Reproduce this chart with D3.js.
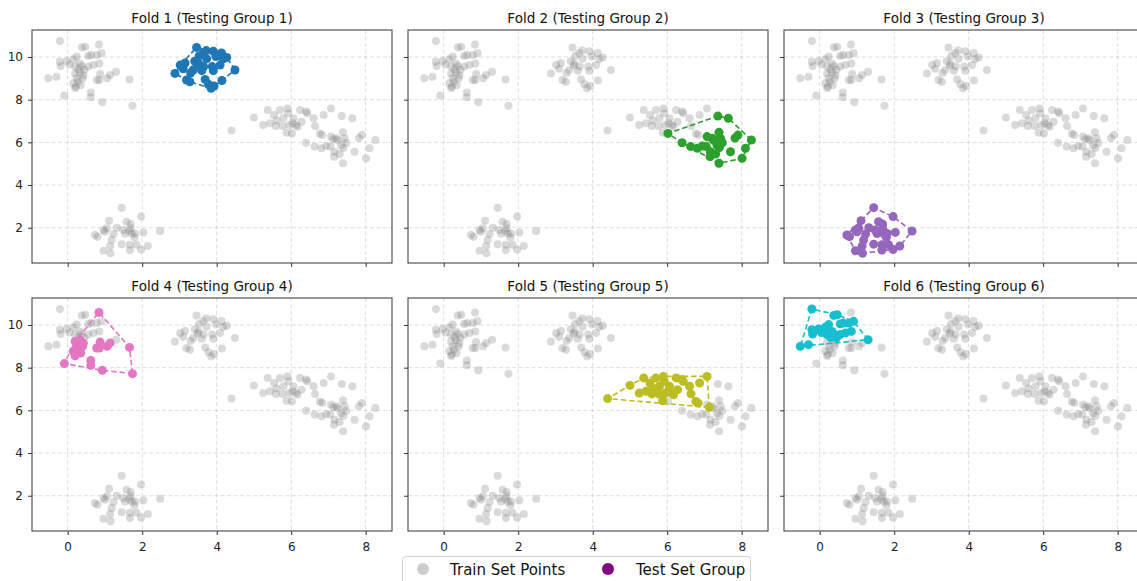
<!DOCTYPE html>
<html>
<head>
<meta charset="utf-8">
<script src="https://cdn.jsdelivr.net/npm/d3@7"></script>
<style>
  html, body { margin: 0; padding: 0; background: #fff; overflow: hidden; }
  svg { display: block; font-family: "DejaVu Sans", sans-serif; }
</style>
</head>
<body>
<svg id="chart" width="1137" height="581"></svg>
<script>
// Six spatial groups; each fold holds one group out as the test set.
const group1 = [[3.46,10.45],[3.64,10.19],[3.72,10.30],[3.91,10.27],[3.98,10.02],[4.13,10.19],[4.27,9.98],[4.18,9.91],
  [3.53,10.05],[3.73,9.92],[3.41,9.80],[3.15,9.72],[3.02,9.62],[3.51,9.70],[3.49,9.60],[3.37,9.39],[3.60,9.36],
  [3.91,9.36],[4.09,9.62],[4.49,9.39],[2.88,9.23],[3.10,9.45],[3.19,8.92],[3.28,8.84],[3.69,8.95],[3.78,8.72],
  [3.85,8.53],[3.93,8.64],[4.14,8.90],[3.88,9.55],[3.65,9.55],[3.30,9.25]];
const group2 = [[6.02,6.42],[6.40,5.98],[6.63,5.80],[6.81,5.72],[6.94,5.83],[7.07,6.27],[7.21,6.19],[7.39,6.47],
  [7.36,7.23],[7.64,7.13],[7.43,6.19],[7.48,5.98],[7.34,5.86],[7.16,5.56],[7.15,5.33],[7.39,5.02],[7.70,5.56],
  [7.90,6.34],[7.82,6.20],[8.10,5.72],[8.01,5.25],[8.26,6.11],[7.30,5.45],[7.05,5.80],[7.40,5.75],[7.25,6.10]];
const group3 = [[1.45,2.94],[1.11,2.33],[1.32,2.00],[1.58,2.28],[1.69,2.17],[1.97,2.52],[1.05,1.97],[0.96,1.89],
  [1.00,1.81],[0.73,1.66],[0.80,1.58],[1.23,1.70],[1.49,1.89],[1.54,1.73],[1.69,1.97],[1.72,1.73],[1.81,1.73],
  [1.79,1.55],[2.03,1.78],[2.48,1.84],[1.18,1.42],[1.14,1.14],[0.96,0.92],[1.15,0.80],[1.45,1.23],[1.67,1.20],
  [1.67,0.95],[1.85,1.20],[1.97,0.98],[2.15,1.14],[1.65,1.85]];
const group4 = [[0.84,10.59],[-0.09,8.19],[0.62,8.34],[0.62,8.11],[0.93,7.88],[1.74,7.72],[1.66,8.95],[0.78,8.92],
  [0.85,8.92],[0.87,9.20],[1.06,9.00],[1.14,9.16],[0.20,9.23],[0.33,9.28],[0.42,9.15],[0.24,9.00],[0.15,8.77],
  [0.20,8.55],[0.35,8.69],[0.40,9.00],[0.28,8.85],[0.22,8.62]];
const group5 = [[4.40,6.55],[5.00,7.17],[5.25,6.81],[5.37,7.52],[5.43,6.89],[5.54,7.28],[5.61,7.02],[5.59,6.77],
  [5.70,7.52],[5.79,7.13],[5.77,6.77],[5.90,7.59],[5.88,6.45],[5.92,7.36],[5.95,6.81],[6.06,7.13],[6.04,6.89],
  [6.13,6.81],[6.17,6.73],[6.24,7.52],[6.28,6.97],[6.40,7.44],[6.43,7.36],[6.60,7.13],[6.64,6.77],[6.77,6.42],
  [6.83,6.34],[6.87,7.28],[7.07,7.59],[7.13,6.14]];
const group6 = [[-0.21,10.75],[-0.52,9.00],[-0.30,9.08],[-0.21,9.78],[-0.19,9.58],[-0.03,9.81],[0.15,9.89],
  [0.24,10.02],[0.38,10.45],[0.47,10.48],[0.55,10.05],[0.63,10.09],[0.78,10.09],[0.91,10.17],[0.33,9.70],
  [0.38,9.58],[0.20,9.55],[0.55,9.55],[0.69,9.63],[0.85,9.70],[0.29,9.42],[1.30,9.31],[0.45,9.40],[0.05,9.65]];

const groups = [group1, group2, group3, group4, group5, group6];
const groupColors = ["#1f77b4", "#2ca02c", "#9467bd", "#e377c2", "#bcbd22", "#17becf"];
const foldTitles = groups.map((_, i) => `Fold ${i + 1} (Testing Group ${i + 1})`);
const xTicks = [0, 2, 4, 6, 8];
const yTicks = [2, 4, 6, 8, 10];
const legendLabels = ["Train Set Points", "Test Set Group"];

const panelW = 360, panelH = 233;
const colLeft = [32, 408, 784];
const rowTop = [30, 298];

const x = d3.scaleLinear().domain([-0.958, 8.706]).range([0, panelW]);
const y = d3.scaleLinear().domain([0.346, 11.265]).range([panelH, 0]);

const svg = d3.select("#chart");

groups.forEach((testGroup, fold) => {
  const col = fold % 3, row = Math.floor(fold / 3);
  const g = svg.append("g").attr("transform", `translate(${colLeft[col]},${rowTop[row]})`);

  // grid
  g.append("g").selectAll("line").data(xTicks).join("line")
    .attr("x1", d => x(d)).attr("x2", d => x(d)).attr("y1", 0).attr("y2", panelH)
    .attr("stroke", "#b0b0b0").attr("stroke-opacity", 0.55).attr("stroke-width", 0.8)
    .attr("stroke-dasharray", "4,2.5");
  g.append("g").selectAll("line").data(yTicks).join("line")
    .attr("y1", d => y(d)).attr("y2", d => y(d)).attr("x1", 0).attr("x2", panelW)
    .attr("stroke", "#b0b0b0").attr("stroke-opacity", 0.55).attr("stroke-width", 0.8)
    .attr("stroke-dasharray", "4,2.5");

  // training points: every group except the held-out one
  const train = groups.filter((_, i) => i !== fold).flat();
  g.append("g").selectAll("circle").data(train).join("circle")
    .attr("cx", d => x(d[0])).attr("cy", d => y(d[1])).attr("r", 4)
    .attr("fill", "#808080").attr("fill-opacity", 0.3);

  // held-out group and its convex hull
  const color = groupColors[fold];
  const hull = d3.polygonHull(testGroup.map(d => [x(d[0]), y(d[1])]));
  g.append("path")
    .attr("d", "M" + hull.map(p => p.join(",")).join("L") + "Z")
    .attr("fill", "none").attr("stroke", color).attr("stroke-width", 1.6)
    .attr("stroke-dasharray", "5.5,2.8");
  g.append("g").selectAll("circle").data(testGroup).join("circle")
    .attr("cx", d => x(d[0])).attr("cy", d => y(d[1])).attr("r", 4.5)
    .attr("fill", color);

  // axes
  const ax = g.append("g").attr("transform", `translate(0,${panelH})`)
    .call(d3.axisBottom(x).tickValues(xTicks).tickSize(4).tickPadding(7)
      .tickFormat(row === 1 ? d3.format("d") : () => ""));
  const ay = g.append("g")
    .call(d3.axisLeft(y).tickValues(yTicks).tickSize(4).tickPadding(5)
      .tickFormat(col === 0 ? d3.format("d") : () => ""));
  [ax, ay].forEach(a => {
    a.select(".domain").remove();
    a.selectAll("line").attr("stroke", "#333");
    a.selectAll("text").attr("fill", "#222").style("font-size", "12px")
      .style("font-family", "DejaVu Sans, sans-serif");
  });

  // frame
  g.append("rect").attr("width", panelW).attr("height", panelH)
    .attr("fill", "none").attr("stroke", "#333").attr("stroke-width", 1);

  // title
  g.append("text").attr("x", panelW / 2).attr("y", -7)
    .attr("text-anchor", "middle").attr("fill", "#111")
    .style("font-size", "13.5px").text(foldTitles[fold]);
});

// legend
const legend = svg.append("g").attr("transform", "translate(402,556)");
legend.append("rect").attr("x", 0.5).attr("y", 0.5).attr("width", 348).attr("height", 34)
  .attr("rx", 3).attr("fill", "#fff").attr("fill-opacity", 0.8)
  .attr("stroke", "#d0d0d0").attr("stroke-width", 1);
const legendItems = [
  { label: legendLabels[0], fill: "#808080", opacity: 0.4, cx: 21, tx: 48 },
  { label: legendLabels[1], fill: "#800080", opacity: 1, cx: 206, tx: 234 }
];
legendItems.forEach(it => {
  legend.append("circle").attr("cx", it.cx).attr("cy", 13).attr("r", 6)
    .attr("fill", it.fill).attr("fill-opacity", it.opacity);
  legend.append("text").attr("x", it.tx).attr("y", 18.5).attr("fill", "#111")
    .style("font-size", "15px").text(it.label);
});
</script>
</body>
</html>
